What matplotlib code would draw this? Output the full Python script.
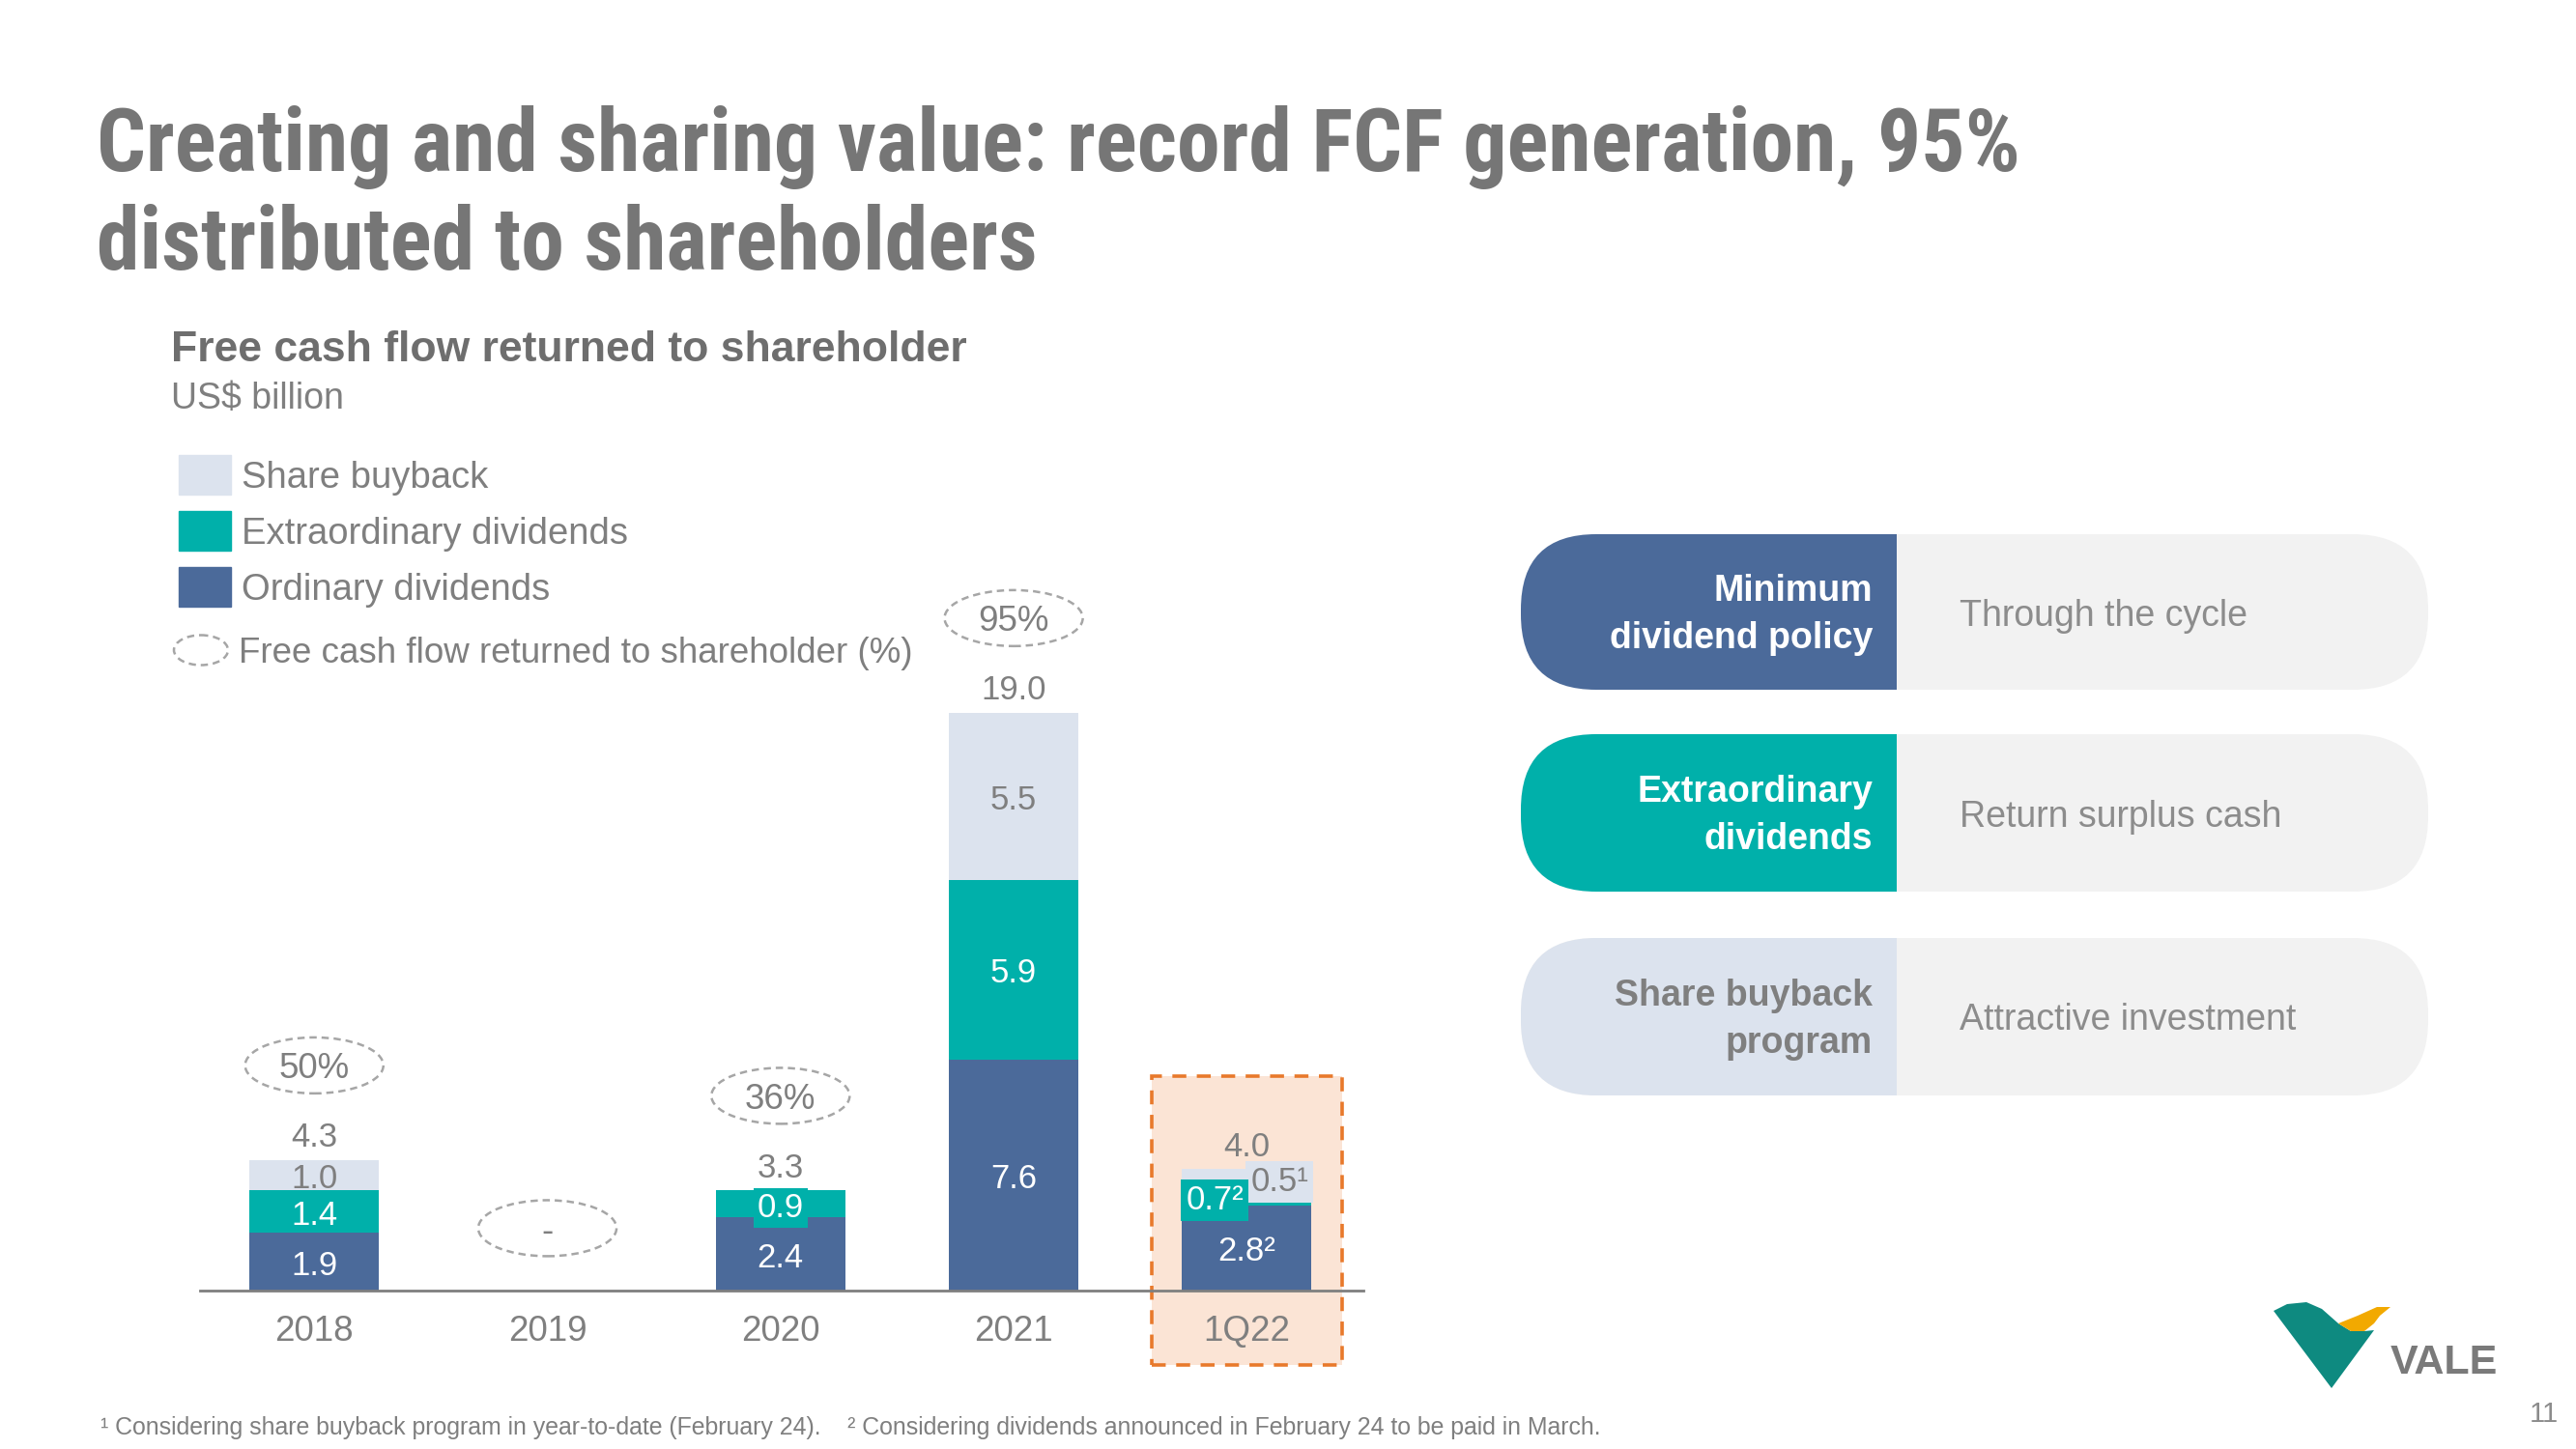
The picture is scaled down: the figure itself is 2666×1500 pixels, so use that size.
import matplotlib
matplotlib.use("Agg")
import numpy as np
import matplotlib.pyplot as plt
from matplotlib import font_manager
from matplotlib.patches import Ellipse, FancyBboxPatch, Rectangle, Polygon
from matplotlib.transforms import offset_copy

# chart data (US$ billion)
categories = ["2018", "2019", "2020", "2021", "1Q22"]
ordinary = [1.9, 0.0, 2.4, 7.6, 2.8]
extraordinary = [1.4, 0.0, 0.9, 5.9, 0.7]
buyback = [1.0, 0.0, 0.0, 5.5, 0.5]
totals = [4.3, 0.0, 3.3, 19.0, 4.0]
ordinary_labels = ["1.9", "", "2.4", "7.6", "2.8²"]
extra_labels = ["1.4", "", "0.9", "5.9", "0.7²"]
buyback_labels = ["1.0", "", "", "5.5", "0.5¹"]
total_labels = ["4.3", "", "3.3", "19.0", "4.0"]
fcf_share = ["50%", "-", "36%", "95%", ""]

pillars = ["Minimum\ndividend policy", "Extraordinary\ndividends", "Share buyback\nprogram"]
pillar_notes = ["Through the cycle", "Return surplus cash", "Attractive investment"]

BLUE = "#4B6A9A"
TEAL = "#00B0AA"
LIGHT = "#DCE3EE"
GRAY = "#7F7F7F"
PALE = "#F2F2F2"

names = {f.name for f in font_manager.fontManager.ttflist}
narrow = next((n for n in ["Roboto Condensed", "Liberation Sans Narrow", "Arial Narrow"] if n in names),
              "Liberation Sans")
plt.rcParams["font.family"] = ["Liberation Sans", "DejaVu Sans"]

W, H = 2666, 1500
fig = plt.figure(figsize=(W / 100, H / 100), dpi=100)
fig.patch.set_facecolor("white")

# full-figure layer in pixel units (y down) for the slide furniture
bg = fig.add_axes([0, 0, 1, 1])
bg.set_xlim(0, W)
bg.set_ylim(H, 0)
bg.axis("off")

bg.text(100, 152, "Creating and sharing value: record FCF generation, 95%", family=[narrow, "DejaVu Sans"],
        fontsize=64.5, fontweight="bold", color="#767676", va="center")
bg.text(100, 254, "distributed to shareholders", family=[narrow, "DejaVu Sans"],
        fontsize=64.5, fontweight="bold", color="#767676", va="center")
bg.text(177, 362, "Free cash flow returned to shareholder",
        fontsize=32, fontweight="bold", color="#6E6E6E", va="center")
bg.text(177, 413, "US$ billion", fontsize=27, color=GRAY, va="center")

# legend
for y, col, lab in [(491, LIGHT, "Share buyback"), (549, TEAL, "Extraordinary dividends"),
                    (607, BLUE, "Ordinary dividends")]:
    bg.add_patch(Rectangle((185, y - 20), 54, 41, color=col))
    bg.text(250, y + 4, lab, fontsize=27.5, color=GRAY, va="center")
bg.add_patch(Ellipse((208, 673), 56, 31, fill=False, ec="#A6A6A6", lw=1.8, ls=(0, (3, 2))))
bg.text(247, 676, "Free cash flow returned to shareholder (%)", fontsize=26.5, color=GRAY, va="center")

# pillars on the right
pill_rows = [(553, 714), (760, 923), (971, 1134)]
pill_colors = [BLUE, TEAL, LIGHT]
text_colors = ["white", "white", GRAY]
x0, x_split, x1 = 1574, 1963, 2513
for (top, bot), col, tcol, head, note in zip(pill_rows, pill_colors, text_colors, pillars, pillar_notes):
    h = bot - top
    grey = FancyBboxPatch((x0, top), x1 - x0, h, boxstyle="round,pad=0,rounding_size=78",
                          fc=PALE, ec="none")
    bg.add_patch(grey)
    part = FancyBboxPatch((x0, top), x1 - x0, h, boxstyle="round,pad=0,rounding_size=78",
                          fc=col, ec="none")
    bg.add_patch(part)
    clip = Rectangle((x0 - 5, top - 5), x_split - x0 + 5, h + 10, transform=bg.transData)
    part.set_clip_path(clip)
    bg.text(1938, (top + bot) / 2 + 3, head, fontsize=27, fontweight="bold", color=tcol,
            ha="right", va="center", linespacing=1.45)
    bg.text(2028, (top + bot) / 2 + 4, note, fontsize=27, color="#8C8C8C", va="center")

# logo
bg.add_patch(Polygon([(2353, 1357), (2367, 1350), (2387, 1348), (2403, 1355), (2420, 1370),
                      (2433, 1378), (2447, 1378), (2457, 1377), (2413, 1437)],
                     closed=True, color="#0E8A80", lw=0))
bg.add_patch(Polygon([(2420, 1370), (2440, 1362), (2460, 1353), (2474, 1353), (2463, 1362),
                      (2457, 1370), (2447, 1378), (2433, 1378)], closed=True, color="#F2A900", lw=0))
bg.text(2474, 1411, "VALE", fontsize=31, fontweight="bold", color="#7A7A7A", va="center")
bg.text(2648, 1464, "11", fontsize=21, color="#8C8C8C", va="center", ha="right")

bg.text(104, 1478, "¹ Considering share buyback program in year-to-date (February 24).    "
        "² Considering dividends announced in February 24 to be paid in March.",
        fontsize=17.9, color=GRAY, va="center")

# bar chart
base_px, unit_px = 1336, 31.5
ax = fig.add_axes([207 / W, (H - base_px) / H, (1411 - 207) / W, (base_px - 300) / H])
ax.patch.set_alpha(0)
ax.set_xlim(-0.49, 4.5)
ax.set_ylim(0, (base_px - 300) / unit_px)
tr = offset_copy(ax.transData, fig=fig, y=-4, units="dots")

x = np.arange(len(categories))
bw = 0.555
ordn = np.array(ordinary)
extr = np.array(extraordinary)
buyb = np.array(buyback)

ax.add_patch(Rectangle((3.594, -2.44), 0.816, 9.49, fc="#FBE4D5", ec="#E8792B", lw=2.6,
                       ls=(0, (4, 3)), zorder=0.5, clip_on=False))
ax.bar(x, ordn, bw, color=BLUE, zorder=1)
ax.bar(x, extr, bw, bottom=ordn, color=TEAL, zorder=1)
ax.bar(x, buyb, bw, bottom=ordn + extr, color=LIGHT, zorder=1)

lab_fs = 25
for i in x:
    if ordinary_labels[i]:
        ax.text(i, ordn[i] / 2, ordinary_labels[i], ha="center", va="center",
                fontsize=lab_fs, color="white", zorder=3, transform=tr)
    if extra_labels[i]:
        dx, box = 0.0, None
        if i == 2:
            box = dict(boxstyle="square,pad=0.12", fc=TEAL, ec="none")
        if i == 4:
            dx = -0.137
            box = dict(boxstyle="square,pad=0.15", fc=TEAL, ec="none")
        ax.text(i + dx, ordn[i] + extr[i] / 2 - (0.05 if i == 4 else 0), extra_labels[i],
                ha="center", va="center", fontsize=lab_fs, color="white", bbox=box, zorder=3,
                transform=tr)
    if buyback_labels[i]:
        dx, box, yy = 0.0, None, ordn[i] + extr[i] + buyb[i] / 2
        if i == 4:
            dx = 0.14
            yy = 3.7
            box = dict(boxstyle="square,pad=0.15", fc=LIGHT, ec="none")
        ax.text(i + dx, yy, buyback_labels[i], ha="center", va="center",
                fontsize=lab_fs, color=GRAY, bbox=box, zorder=2.9, transform=tr)
    if total_labels[i]:
        ax.text(i, totals[i] + 0.85, total_labels[i], ha="center", va="center",
                fontsize=lab_fs, color=GRAY, transform=tr)
    if fcf_share[i]:
        yc = totals[i] + 3.1 if totals[i] else 2.05
        ax.add_patch(Ellipse((i, yc), 0.593, 1.84, fill=False, ec="#A6A6A6", lw=1.8,
                             ls=(0, (3, 2)), clip_on=False))
        ax.text(i, yc, fcf_share[i], ha="center", va="center", fontsize=26.5, color=GRAY,
                transform=tr)

ax.set_xticks(x)
ax.set_xticklabels(categories)
ax.tick_params(axis="x", length=0, pad=18, labelsize=26.5, labelcolor=GRAY)
ax.set_yticks([])
for s in ["top", "left", "right"]:
    ax.spines[s].set_visible(False)
ax.spines["bottom"].set_color(GRAY)
ax.spines["bottom"].set_linewidth(2)
ax.spines["bottom"].set_zorder(2.5)

fig.savefig("out.png", dpi=100)
